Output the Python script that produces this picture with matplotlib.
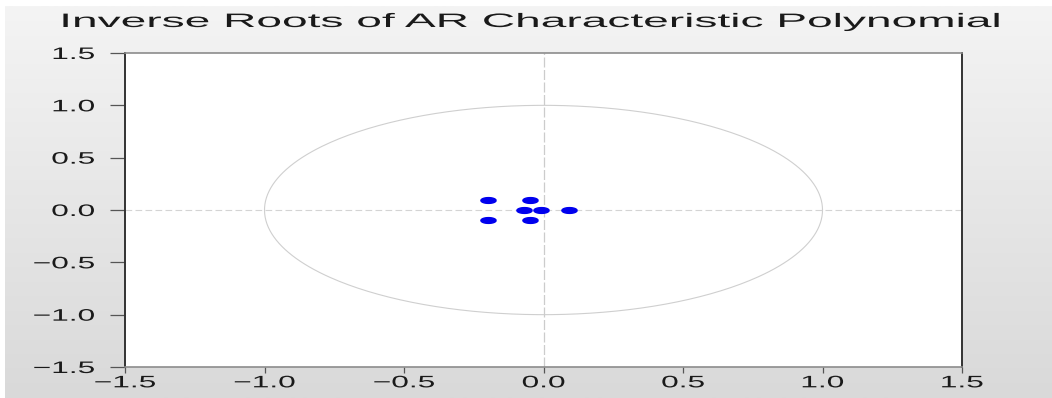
import numpy as np
import matplotlib
matplotlib.use('Agg')
import matplotlib.pyplot as plt
from matplotlib.patheffects import AbstractPathEffect
from matplotlib.transforms import Affine2D
from matplotlib.colors import LinearSegmentedColormap

plt.rcParams['font.family'] = ['Liberation Sans', 'DejaVu Sans']

# inverse roots
root_re = [-0.20, -0.20, -0.05, -0.05, -0.07, -0.01, 0.09]
root_im = [0.10, -0.10, 0.10, -0.10, 0.0, 0.0, 0.0]
ticks = [-1.5, -1.0, -0.5, 0.0, 0.5, 1.0, 1.5]
tick_labels = [('%.1f' % v).replace('-', '\u2212') for v in ticks]
title = 'Inverse Roots of AR Characteristic Polynomial'


class Stretch(AbstractPathEffect):
    # the original picture is stretched sideways, text included
    def __init__(self, sx, anchor='center'):
        super().__init__()
        self.sx = sx
        self.anchor = anchor

    def draw_path(self, renderer, gc, tpath, affine, rgbFace=None):
        ext = affine.transform_path(tpath).get_extents()
        if self.anchor == 'right':
            cx = ext.x1
        else:
            cx = (ext.x0 + ext.x1) / 2
        aff = affine + Affine2D().translate(-cx, 0).scale(self.sx, 1).translate(cx, 0)
        renderer.draw_path(gc, tpath, aff, rgbFace)


fig = plt.figure(figsize=(10.52, 3.98), dpi=100)

# grey gradient panel, thin white edge at top/left
bg = fig.add_axes([5/1052, 0, 1-5/1052, 1-6/398], zorder=-10)
grad = np.linspace(0, 1, 256).reshape(-1, 1)
bg.imshow(grad, aspect='auto', extent=[0, 1, 0, 1],
          cmap=LinearSegmentedColormap.from_list('g', ['#f4f4f4', '#d9d9d9']))
bg.axis('off')

ax = fig.add_axes([125/1052, 1-367/398, (962-125)/1052, (367-53)/398])
ax.set_facecolor('white')

t = np.linspace(0, 2*np.pi, 400)
ax.plot(np.cos(t), np.sin(t), color='#cfcfcf', lw=0.8)
ax.axhline(0, color='#d4d4d4', lw=0.8, ls=(0, (6, 3)))
ax.axvline(0, color='#cccccc', lw=0.9, ls=(0, (8, 2)))

# flattened marker, as in the stretched original
th = np.linspace(0, 2*np.pi, 40)
ell = np.column_stack([np.cos(th), 0.38*np.sin(th)])
ax.scatter(root_re, root_im, marker=ell, s=120, color='#0000ee', zorder=3)

ax.set_xlim(-1.5, 1.5)
ax.set_ylim(-1.5, 1.5)
ax.set_xticks(ticks)
ax.set_yticks(ticks)
xl = ax.set_xticklabels(tick_labels)
yl = ax.set_yticklabels(tick_labels)
ax.tick_params(color='#555555', labelsize=12, labelcolor='#1a1a1a', width=0.9,
               direction='out')
ax.tick_params(axis='x', length=4, pad=2)
ax.tick_params(axis='y', length=11, pad=11)
for lab in xl:
    lab.set_path_effects([Stretch(1.9)])
for lab in yl:
    lab.set_path_effects([Stretch(1.9, 'right')])

for side in ['left', 'right']:
    ax.spines[side].set_color('#333333')
    ax.spines[side].set_linewidth(1.4)
for side in ['top', 'bottom']:
    ax.spines[side].set_color('#8c8c8c')
    ax.spines[side].set_linewidth(1.2)

fig.text(532/1052, 1-27/398, title, ha='center', va='baseline',
         fontsize=14, color='#1a1a1a', path_effects=[Stretch(2.37)])

fig.savefig('out.png', dpi=100)
